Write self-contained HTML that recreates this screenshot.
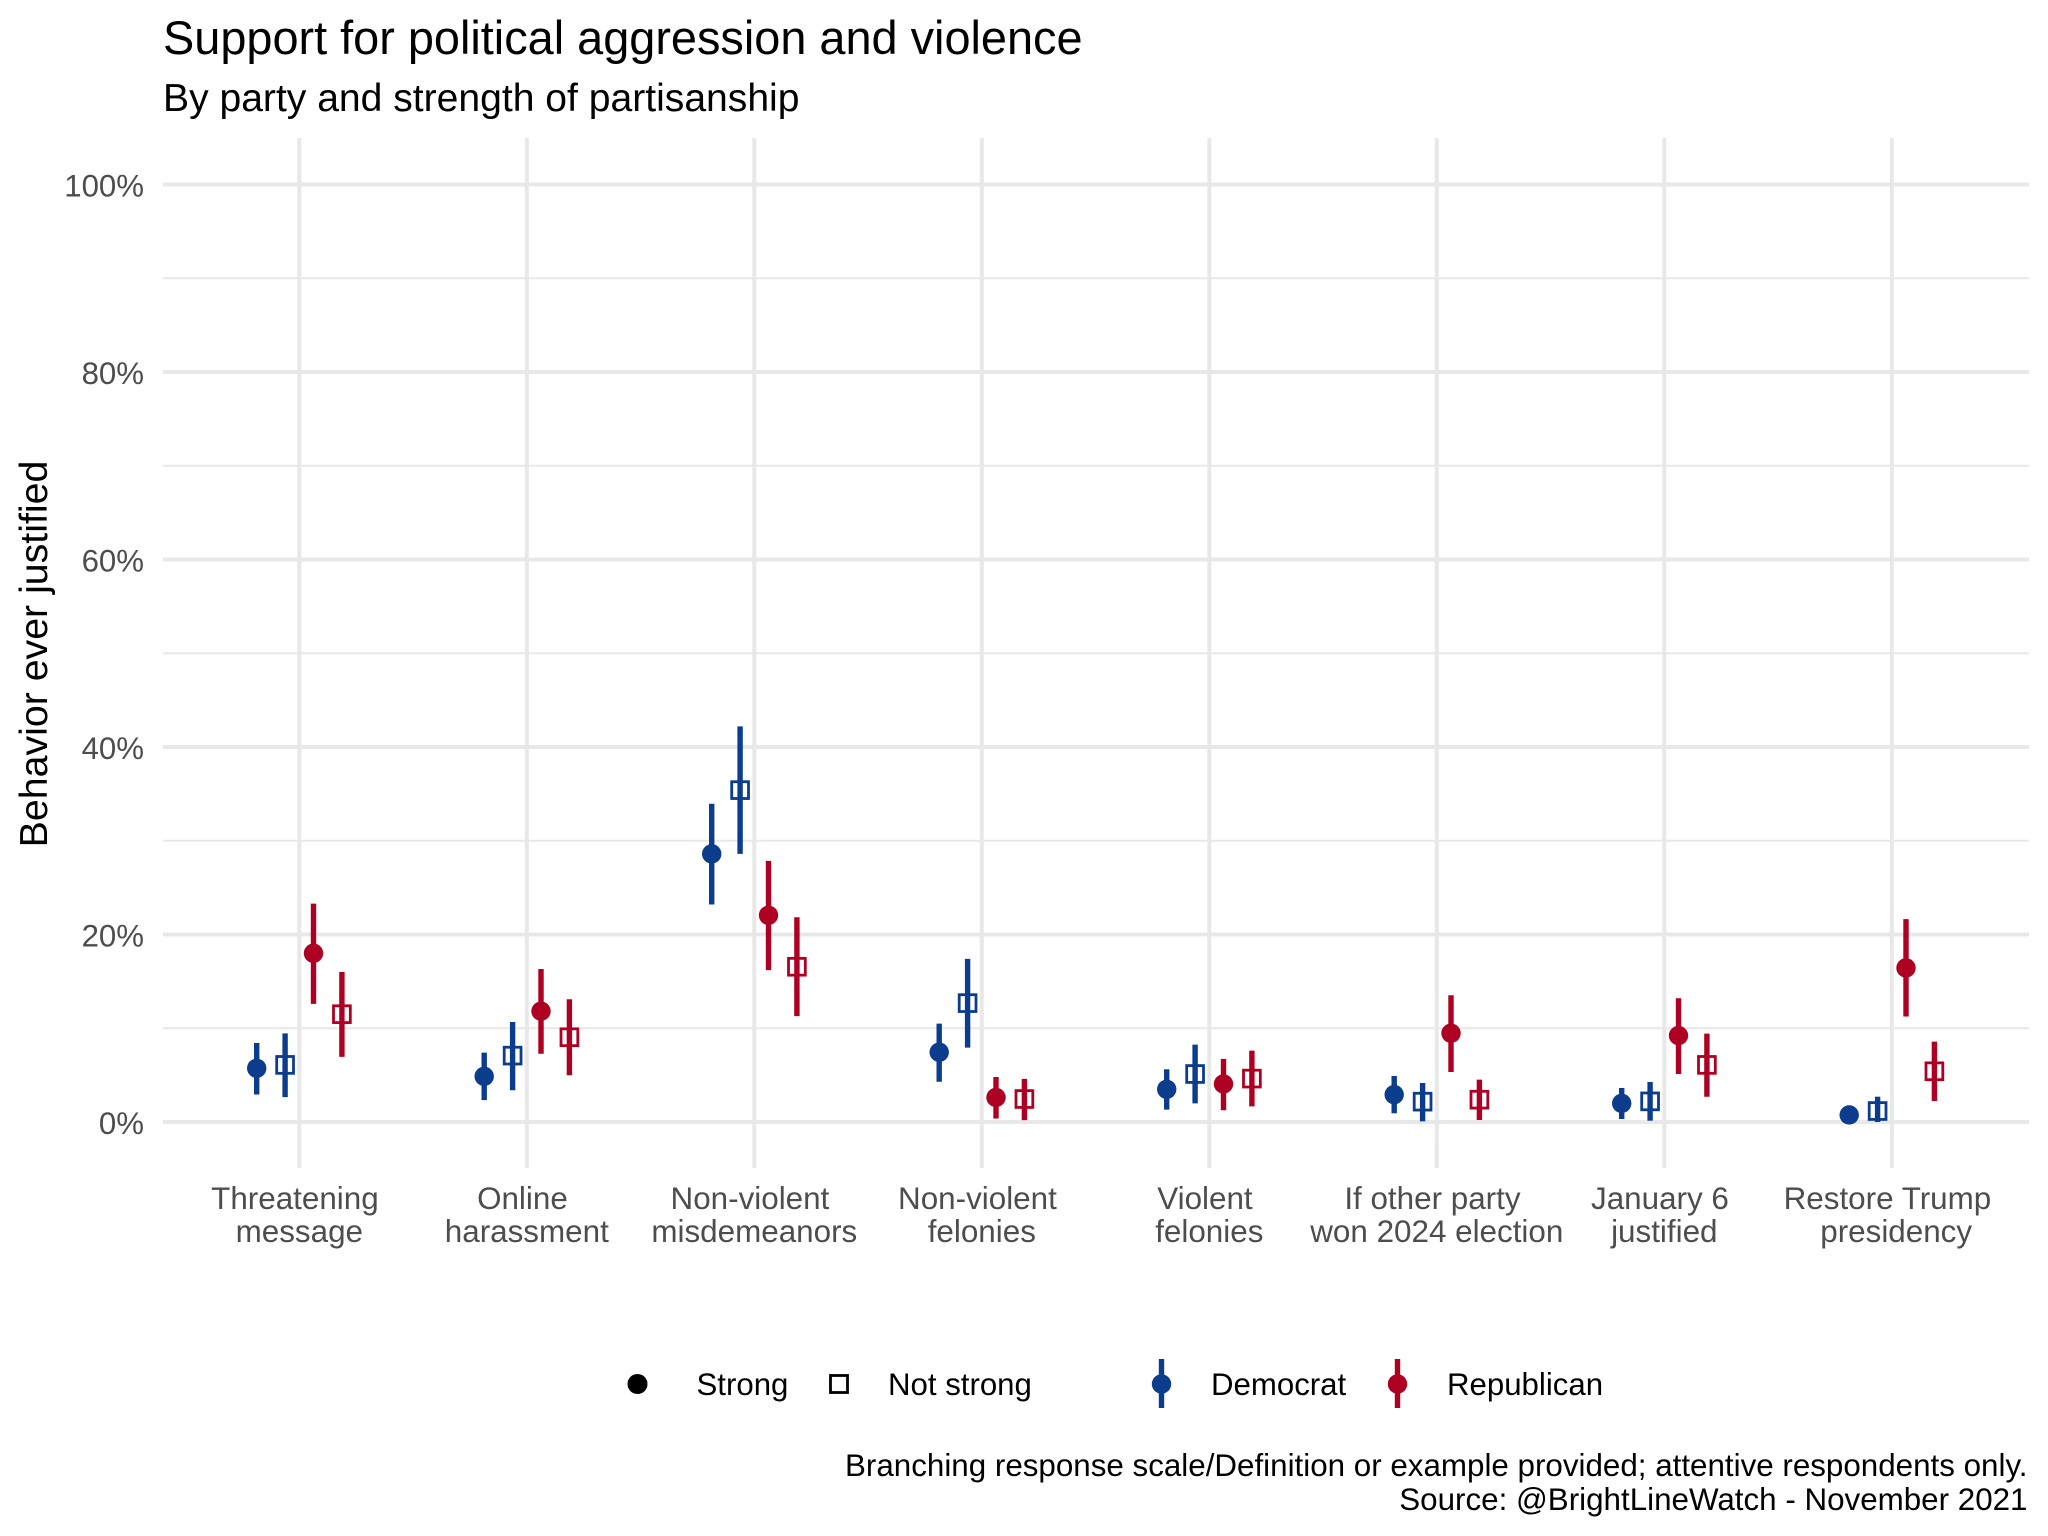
<!DOCTYPE html>
<html lang="en">
<head>
<meta charset="utf-8">
<title>Support for political aggression and violence</title>
<style>
html,body{margin:0;padding:0;background:#fff;}
svg{display:block;}
text{font-family:"Liberation Sans",Arial,sans-serif;white-space:pre;}
</style>
</head>
<body>
<svg id="chart" xmlns="http://www.w3.org/2000/svg" width="2048" height="1536" viewBox="0 0 2048 1536">
  <rect x="0" y="0" width="2048" height="1536" fill="#ffffff"/>
  <g id="grid"></g>
  <g id="marks"></g>
  <g id="yticks"></g>
  <g id="xticks"></g>
  <text x="163" y="54" font-size="46.87" fill="#000">Support for political aggression and violence</text>
  <text x="163" y="111" font-size="39.1" fill="#000">By party and strength of partisanship</text>
  <text transform="translate(47,654) rotate(-90)" text-anchor="middle" font-size="39.3" fill="#000">Behavior ever justified</text>
  <g>
    <circle cx="637.5" cy="1384" r="10" fill="#000"/>
    <text x="696.5" y="1395" font-size="31.2" fill="#000">Strong</text>
    <rect x="830.5" y="1375.5" width="17" height="17" fill="none" stroke="#000" stroke-width="2.8"/>
    <text x="888" y="1395" font-size="31.2" fill="#000">Not strong</text>
    <line x1="1161.5" x2="1161.5" y1="1359" y2="1408" stroke="#0c3c8c" stroke-width="5.4"/>
    <circle cx="1161.5" cy="1384" r="9.7" fill="#0c3c8c"/>
    <text x="1211" y="1395" font-size="31.2" fill="#000">Democrat</text>
    <line x1="1397.5" x2="1397.5" y1="1359" y2="1408" stroke="#ae0022" stroke-width="5.4"/>
    <circle cx="1397.5" cy="1384" r="9.7" fill="#ae0022"/>
    <text x="1447" y="1395" font-size="31.2" fill="#000">Republican</text>
  </g>
  <text x="2027.5" y="1476" text-anchor="end" font-size="31.35" fill="#000">Branching response scale/Definition or example provided; attentive respondents only.</text>
  <text x="2027.5" y="1510" text-anchor="end" font-size="31.35" fill="#000">Source: @BrightLineWatch - November 2021</text>
</svg>
<script>
const categoryFirstLines = ["Threatening ", "Online ", "Non-violent ", "Non-violent ", "Violent ", "If other party ", "January 6 ", "Restore Trump "];
const categorySecondLines = ["message", "harassment", "misdemeanors", "felonies", "felonies", "won 2024 election", "justified", " presidency"];
const yTickValues = [0, 20, 40, 60, 80, 100];
const yTickLabels = ["0%", "20%", "40%", "60%", "80%", "100%"];
const yMinorValues = [10, 30, 50, 70, 90];

const demStrong = [5.73, 4.87, 28.6, 7.44, 3.49, 2.92, 1.99, 0.75];
const demStrongLow = [2.94, 2.33, 23.2, 4.3, 1.32, 0.93, 0.32, 0.07];
const demStrongHigh = [8.43, 7.4, 33.95, 10.5, 5.62, 4.91, 3.63, 1.39];

const demNotStrong = [6.09, 7.08, 35.4, 12.68, 5.12, 2.17, 2.2, 1.17];
const demNotStrongLow = [2.66, 3.39, 28.6, 7.93, 1.99, 0.07, 0.14, 0.0];
const demNotStrongHigh = [9.45, 10.67, 42.2, 17.4, 8.26, 4.16, 4.27, 2.7];

const repStrong = [18.0, 11.82, 22.05, 2.62, 4.06, 9.47, 9.22, 16.44];
const repStrongLow = [12.6, 7.28, 16.2, 0.37, 1.25, 5.34, 5.12, 11.25];
const repStrongHigh = [23.3, 16.32, 27.85, 4.8, 6.73, 13.52, 13.2, 21.64];

const repNotStrong = [11.5, 9.04, 16.56, 2.45, 4.63, 2.38, 6.09, 5.41];
const repNotStrongLow = [6.95, 4.99, 11.3, 0.2, 1.67, 0.21, 2.7, 2.24];
const repNotStrongHigh = [16.0, 13.09, 21.84, 4.6, 7.62, 4.52, 9.43, 8.58];

const BLUE = "#0c3c8c";
const RED = "#ae0022";
const GRID = "#e8e8e8";
const SVGNS = "http://www.w3.org/2000/svg";

function xScale(i) { return 299.3 + 227.5 * i; }
function yScale(v) { return 1122 - 9.375 * v; }
function dodge(s) { return (s - 1.5) * 28.4; }

function make(tag, attrs, parent) {
  const el = document.createElementNS(SVGNS, tag);
  for (const k in attrs) el.setAttribute(k, attrs[k]);
  parent.appendChild(el);
  return el;
}

const grid = document.getElementById("grid");
const marks = document.getElementById("marks");
const yticks = document.getElementById("yticks");
const xticks = document.getElementById("xticks");

yMinorValues.forEach(function (v) {
  const el = make("line", { x1: 163, x2: 2029, y1: yScale(v), y2: yScale(v), stroke: GRID, "stroke-width": 2 }, grid);
  
  
});
yTickValues.forEach(function (v, i) {
  const el = make("line", { x1: 163, x2: 2029, y1: yScale(v), y2: yScale(v), stroke: GRID, "stroke-width": 4 }, grid);
  
  
  const t = make("text", { x: 144, y: yScale(v) + 12, "text-anchor": "end", "font-size": 31.2, fill: "#4d4d4d" }, yticks);
  t.textContent = yTickLabels[i];
  
  
});
categoryFirstLines.forEach(function (label, i) {
  const el = make("line", { x1: xScale(i), x2: xScale(i), y1: 138, y2: 1168, stroke: GRID, "stroke-width": 4 }, grid);
  
  
  const t1 = make("text", { x: xScale(i), y: 1209, "text-anchor": "middle", "font-size": 31.4, fill: "#4d4d4d" }, xticks);
  t1.textContent = label;
  
  
  const t2 = make("text", { x: xScale(i), y: 1242, "text-anchor": "middle", "font-size": 31.4, fill: "#4d4d4d" }, xticks);
  t2.textContent = categorySecondLines[i];
  
  
});

function drawSeries(seriesIndex, values, lows, highs, color, solid, name) {
  values.forEach(function (v, i) {
    const x = xScale(i) + dodge(seriesIndex);
    const line = make("line", { x1: x, x2: x, y1: yScale(lows[i]), y2: yScale(highs[i]), stroke: color, "stroke-width": 5.4 }, marks);
    
    
    let point;
    if (solid) {
      point = make("circle", { cx: x, cy: yScale(v), r: 9.7, fill: color }, marks);
    } else {
      point = make("rect", { x: x - 8.4, y: yScale(v) - 8.4, width: 16.8, height: 16.8, fill: "none", stroke: color, "stroke-width": 2.8 }, marks);
    }
    
    
  });
}

drawSeries(0, demStrong, demStrongLow, demStrongHigh, BLUE, true, "democrat-strong");
drawSeries(1, demNotStrong, demNotStrongLow, demNotStrongHigh, BLUE, false, "democrat-not-strong");
drawSeries(2, repStrong, repStrongLow, repStrongHigh, RED, true, "republican-strong");
drawSeries(3, repNotStrong, repNotStrongLow, repNotStrongHigh, RED, false, "republican-not-strong");
</script>
</body>
</html>
